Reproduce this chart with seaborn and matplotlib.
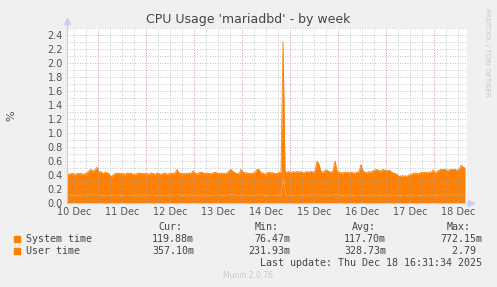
import numpy as np
import pandas as pd
import matplotlib
matplotlib.use("Agg")
import matplotlib.pyplot as plt
import seaborn as sns

# ---------------- data (hourly, starting 2025-12-10 08:31) ----------------
start_time = "2025-12-10 08:31"
system_time = [
    0.12, 0.12, 0.11, 0.12, 0.12, 0.12, 0.11, 0.12, 0.12, 0.12,
    0.12, 0.12, 0.13, 0.12, 0.12, 0.12, 0.12, 0.12, 0.11, 0.12,
    0.12, 0.12, 0.11, 0.12, 0.12, 0.12, 0.12, 0.11, 0.12, 0.12,
    0.12, 0.12, 0.12, 0.11, 0.12, 0.12, 0.12, 0.12, 0.12, 0.11,
    0.12, 0.12, 0.12, 0.12, 0.11, 0.12, 0.12, 0.12, 0.12, 0.12,
    0.11, 0.12, 0.12, 0.12, 0.12, 0.13, 0.12, 0.12, 0.11, 0.12,
    0.12, 0.12, 0.12, 0.12, 0.12, 0.11, 0.12, 0.12, 0.12, 0.12,
    0.12, 0.11, 0.12, 0.12, 0.12, 0.12, 0.12, 0.12, 0.11, 0.12,
    0.12, 0.12, 0.13, 0.12, 0.12, 0.12, 0.11, 0.12, 0.12, 0.12,
    0.12, 0.12, 0.11, 0.12, 0.12, 0.12, 0.13, 0.12, 0.12, 0.11,
    0.12, 0.12, 0.12, 0.12, 0.12, 0.11, 0.12, 0.12, 0.45, 0.12,
    0.12, 0.12, 0.11, 0.12, 0.12, 0.12, 0.12, 0.12, 0.11, 0.12,
    0.12, 0.12, 0.12, 0.12, 0.12, 0.13, 0.12, 0.12, 0.12, 0.12,
    0.11, 0.12, 0.12, 0.12, 0.13, 0.12, 0.12, 0.11, 0.12, 0.12,
    0.12, 0.12, 0.12, 0.11, 0.12, 0.12, 0.12, 0.12, 0.12, 0.12,
    0.11, 0.12, 0.12, 0.12, 0.12, 0.12, 0.11, 0.12, 0.12, 0.12,
    0.12, 0.12, 0.12, 0.11, 0.12, 0.12, 0.11, 0.12, 0.12, 0.12,
    0.11, 0.12, 0.12, 0.12, 0.12, 0.12, 0.11, 0.12, 0.12, 0.12,
    0.12, 0.12, 0.12, 0.12, 0.11, 0.12, 0.12, 0.12, 0.13, 0.12,
    0.12, 0.12, 0.12, 0.13, 0.12, 0.12, 0.12, 0.12, 0.13, 0.12,
]
user_time = [
    0.30, 0.29, 0.31, 0.30, 0.29, 0.30, 0.31, 0.30, 0.29, 0.30,
    0.31, 0.34, 0.35, 0.33, 0.36, 0.39, 0.32, 0.33, 0.31, 0.32,
    0.31, 0.30, 0.265, 0.28, 0.30, 0.31, 0.30, 0.31, 0.30, 0.29,
    0.31, 0.30, 0.31, 0.30, 0.29, 0.30, 0.31, 0.30, 0.30, 0.31,
    0.30, 0.29, 0.31, 0.30, 0.30, 0.31, 0.30, 0.29, 0.30, 0.31,
    0.30, 0.30, 0.31, 0.30, 0.31, 0.35, 0.31, 0.30, 0.31, 0.30,
    0.30, 0.31, 0.30, 0.34, 0.31, 0.30, 0.31, 0.32, 0.31, 0.30,
    0.31, 0.31, 0.30, 0.31, 0.32, 0.31, 0.30, 0.31, 0.31, 0.30,
    0.31, 0.34, 0.35, 0.33, 0.31, 0.30, 0.31, 0.36, 0.32, 0.31,
    0.31, 0.30, 0.31, 0.31, 0.32, 0.36, 0.35, 0.31, 0.31, 0.30,
    0.31, 0.32, 0.31, 0.31, 0.30, 0.31, 0.32, 0.31, 1.85, 0.33,
    0.32, 0.33, 0.32, 0.33, 0.32, 0.33, 0.32, 0.33, 0.32, 0.32,
    0.33, 0.32, 0.33, 0.32, 0.34, 0.47, 0.43, 0.33, 0.32, 0.35,
    0.36, 0.33, 0.32, 0.34, 0.47, 0.33, 0.32, 0.32, 0.31, 0.32,
    0.32, 0.31, 0.32, 0.32, 0.31, 0.32, 0.33, 0.43, 0.34, 0.32,
    0.32, 0.33, 0.32, 0.34, 0.35, 0.36, 0.35, 0.34, 0.36, 0.35,
    0.34, 0.35, 0.33, 0.32, 0.30, 0.29, 0.27, 0.26, 0.27, 0.26,
    0.27, 0.28, 0.29, 0.30, 0.31, 0.30, 0.31, 0.32, 0.31, 0.32,
    0.31, 0.32, 0.32, 0.35, 0.32, 0.33, 0.35, 0.36, 0.35, 0.36,
    0.35, 0.35, 0.36, 0.35, 0.36, 0.35, 0.36, 0.42, 0.38, 0.38,
]
series_names = ["System time", "User time"]
col_headers = ["Cur:", "Min:", "Avg:", "Max:"]
legend_values = [
    ["119.88m", "76.47m", "117.70m", "772.15m"],
    ["357.10m", "231.93m", "328.73m", "2.79"],
]
day_labels = ["10 Dec", "11 Dec", "12 Dec", "13 Dec", "14 Dec",
              "15 Dec", "16 Dec", "17 Dec", "18 Dec"]
y_ticks = [0.0, 0.2, 0.4, 0.6, 0.8, 1.0, 1.2, 1.4, 1.6, 1.8, 2.0, 2.2, 2.4]
title = "CPU Usage 'mariadbd' - by week"
last_update = "Last update: Thu Dec 18 16:31:34 2025"

# ---------------- frame ----------------
t0 = pd.Timestamp(start_time)
times = pd.date_range(t0, periods=len(user_time), freq="h")
df = pd.DataFrame({"time": times, "system": system_time, "user": user_time})
df["total"] = df["system"] + df["user"]

sns.set_style("white")
plt.rcParams["font.family"] = ["DejaVu Sans"]

BG = "#f0f0f0"
ORANGE = "#ff8000"
fig = plt.figure(figsize=(4.97, 2.87), dpi=100, facecolor=BG)
ax = fig.add_axes([67 / 497, 1 - 203 / 287, 400 / 497, 175 / 287])
ax.set_facecolor("white")

ax.fill_between(df["time"], 0, df["system"], color=ORANGE, lw=0, zorder=2)
ax.fill_between(df["time"], df["system"], df["total"], color=ORANGE, lw=0, zorder=2)
sns.lineplot(data=df, x="time", y="total", color=ORANGE, lw=0.6, ax=ax, zorder=3)
sns.lineplot(data=df, x="time", y="system", color="#ffa850", lw=0.4, alpha=0.5, ax=ax, zorder=3)

x_end = t0 + pd.Timedelta(hours=200)
ax.set_xlim(t0, x_end)
ax.set_ylim(0, 2.5)

# grid: minor 6h / 0.1, major midnight / 0.2
day0 = t0.normalize()
minor_x = [day0 + pd.Timedelta(hours=6 * k) for k in range(0, 40)]
minor_x = [m for m in minor_x if t0 < m < x_end]
major_x = [day0 + pd.Timedelta(days=k) for k in range(1, 9)]
GRAY = "#a8a8a8"
RED = "#e09090"
for m in minor_x:
    ax.axvline(m, color=GRAY, lw=0.6, ls=(0, (1, 2)), alpha=0.85, zorder=4)
for yv in np.arange(0.1, 2.55, 0.2):
    ax.axhline(yv, color=GRAY, lw=0.6, ls=(0, (1, 2)), alpha=0.85, zorder=4)
for m in major_x:
    ax.axvline(m, color=RED, lw=0.6, ls=(0, (1, 2)), alpha=0.95, zorder=5)
for yv in y_ticks[1:]:
    ax.axhline(yv, color=RED, lw=0.6, ls=(0, (1, 2)), alpha=0.95, zorder=5)

label_pos = [day0 + pd.Timedelta(days=k, hours=12) for k in range(len(day_labels))]
ax.set_xticks(label_pos)
ax.set_xticklabels(day_labels)
ax.set_yticks(y_ticks)
ax.set_yticklabels([f"{v:.1f}" for v in y_ticks])
ax.tick_params(axis="both", length=0, labelsize=7, colors="#555555", pad=3)
ax.set_xlabel("")
ax.set_ylabel("%", fontsize=8, color="#555555", labelpad=22)

for s in ["top", "right"]:
    ax.spines[s].set_visible(False)
for s in ["left", "bottom"]:
    ax.spines[s].set_color("#c8c8f0")
    ax.spines[s].set_linewidth(0.8)
    ax.spines[s].set_zorder(6)
# axis arrows
ax.plot([0, 0], [1.0, 1.04], transform=ax.transAxes, color="#c8c8f0", lw=0.8, clip_on=False)
ax.plot([0], [1.04], marker="^", ms=4, color="#c8d0f8", transform=ax.transAxes, clip_on=False)
ax.plot([1.0, 1.01], [0, 0], transform=ax.transAxes, color="#c8c8f0", lw=0.8, clip_on=False)
ax.plot([1.01], [0], marker=">", ms=4, color="#c8d0f8", transform=ax.transAxes, clip_on=False)

# title and side texts
fig.text(248 / 497, 1 - 19 / 287, title, ha="center", va="center", fontsize=9, color="#444444")
fig.text(487 / 497, 1 - 52 / 287, "RRDTOOL / TOBI OETIKER", rotation=270, ha="center",
         va="center", fontsize=5, color="#c8c8c8")

# legend block
mono = "DejaVu Sans Mono"
hdr_x = [158, 255, 352, 447]
for h, hx in zip(col_headers, hdr_x):
    fig.text(hx / 497, 1 - 227 / 287, h, ha="left", va="center", family=mono,
             fontsize=7.2, color="#444444")
val_right = [194, 290, 386, 482]
row_y = [239, 251]
for name, vals, ry in zip(series_names, legend_values, row_y):
    fig.patches.append(plt.Rectangle((14 / 497, 1 - (ry + 3) / 287), 6 / 497, 6 / 287,
                                     transform=fig.transFigure, color=ORANGE))
    fig.text(26 / 497, 1 - ry / 287, name, ha="left", va="center", family=mono,
             fontsize=7.2, color="#444444")
    for v, vx in zip(vals, val_right):
        txt = v if v.endswith("m") else v + " "
        fig.text(vx / 497, 1 - ry / 287, txt, ha="right", va="center", family=mono,
                 fontsize=7.2, color="#444444")
fig.text(482 / 497, 1 - 263 / 287, last_update, ha="right", va="center", family=mono,
         fontsize=7.2, color="#444444")
fig.text(248 / 497, 1 - 276 / 287, "Munin 2.0.76", ha="center", va="center",
         fontsize=5.5, color="#c8c8c8")

fig.savefig("out.png", dpi=100, facecolor=BG)
